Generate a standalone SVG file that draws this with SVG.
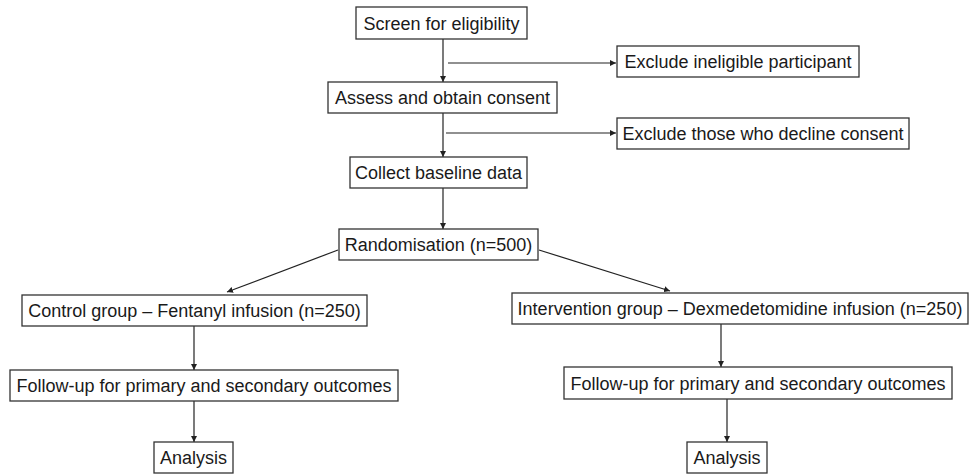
<svg xmlns="http://www.w3.org/2000/svg" width="969" height="474" viewBox="0 0 969 474">
<defs>
<marker id="ah" viewBox="0 0 10 10" refX="10" refY="5" markerWidth="6" markerHeight="6" markerUnits="userSpaceOnUse" orient="auto">
<path d="M0,0 L10,5 L0,10 z" fill="#222"/>
</marker>
<style>
rect{fill:#fff;stroke:#333;stroke-width:1.3}
text{font-family:"Liberation Sans",Arial,sans-serif;font-size:18px;fill:#1a1a1a;text-anchor:middle}
.c{stroke:#222;stroke-width:1.2;fill:none;marker-end:url(#ah)}
</style>
</defs>
<rect x="0" y="0" width="969" height="474" style="fill:#fff;stroke:none"/>
<g id="connectors">
<line class="c" x1="443" y1="39" x2="443" y2="82"/>
<line class="c" x1="448" y1="63" x2="616" y2="63"/>
<line class="c" x1="443" y1="113" x2="443" y2="157"/>
<line class="c" x1="446" y1="133" x2="616" y2="133"/>
<line class="c" x1="443" y1="188" x2="443" y2="229"/>
<line class="c" x1="338" y1="250" x2="227" y2="292"/>
<line class="c" x1="539" y1="250" x2="670" y2="291"/>
<line class="c" x1="194" y1="326" x2="194" y2="370"/>
<line class="c" x1="194" y1="401" x2="194" y2="442"/>
<line class="c" x1="721" y1="324" x2="721" y2="367"/>
<line class="c" x1="727" y1="399" x2="727" y2="442"/>
</g>
<g id="screen"><rect x="356" y="7" width="171" height="32"/><text x="441.5" y="29.5">Screen for eligibility</text></g>
<g id="exclude1"><rect x="617" y="46" width="242" height="31"/><text x="738" y="68">Exclude ineligible participant</text></g>
<g id="consent"><rect x="328" y="82" width="229" height="31"/><text x="442.5" y="104">Assess and obtain consent</text></g>
<g id="exclude2"><rect x="617" y="118" width="292" height="31"/><text x="763" y="140">Exclude those who decline consent</text></g>
<g id="baseline"><rect x="350" y="157" width="177" height="31"/><text x="438.5" y="179">Collect baseline data</text></g>
<g id="random"><rect x="339" y="229" width="199" height="31"/><text x="438.5" y="251">Randomisation (n=500)</text></g>
<g id="control"><rect x="22" y="295" width="345" height="31"/><text x="194.5" y="317">Control group – Fentanyl infusion (n=250)</text></g>
<g id="intervention"><rect x="512" y="293" width="456" height="31"/><text x="740" y="315">Intervention group – Dexmedetomidine infusion (n=250)</text></g>
<g id="followup1"><rect x="10" y="370" width="388" height="31"/><text x="204" y="392">Follow-up for primary and secondary outcomes</text></g>
<g id="followup2"><rect x="564" y="367" width="388" height="32"/><text x="758" y="390">Follow-up for primary and secondary outcomes</text></g>
<g id="analysis1"><rect x="154" y="442" width="79" height="31"/><text x="193.5" y="464">Analysis</text></g>
<g id="analysis2"><rect x="687" y="442" width="80" height="31"/><text x="727" y="464">Analysis</text></g>
</svg>
